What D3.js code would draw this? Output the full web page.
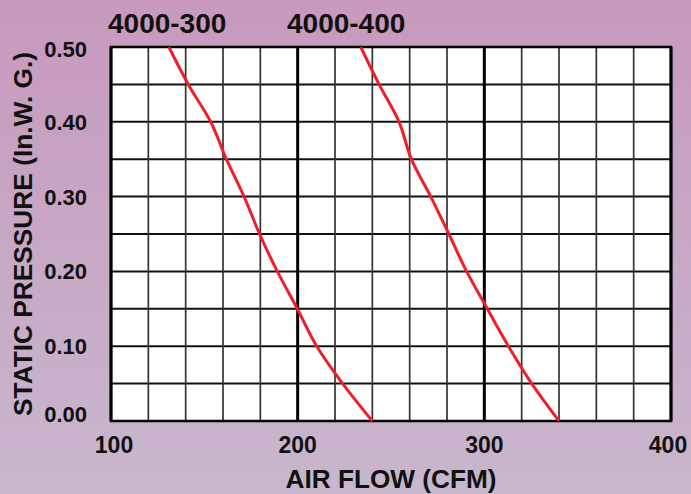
<!DOCTYPE html>
<html>
<head>
<meta charset="utf-8">
<script src="https://cdn.jsdelivr.net/npm/d3@7"></script>
<style>
html,body{margin:0;padding:0;}
svg{display:block;}
text{font-family:"Liberation Sans",Arial,sans-serif;font-weight:bold;fill:#111;}
</style>
</head>
<body>
<svg id="chart" width="691" height="494"></svg>
<script>
// ---- data ----
const seriesNames = ["4000-300", "4000-400"];
const pressure = [0.50, 0.45, 0.40, 0.35, 0.30, 0.25, 0.20, 0.15, 0.10, 0.05, 0.00];
const flow300 = [131, 141.4, 153.4, 161.8, 171.3, 179.6, 189.1, 199.8, 210.2, 224.1, 240];
const flow400 = [233.8, 243.6, 254.3, 260.9, 271.3, 281.0, 290.5, 301.6, 312.9, 325.4, 340];
const xTicks = [100, 200, 300, 400];
const yTicks = [0.00, 0.10, 0.20, 0.30, 0.40, 0.50];
const xGrid = d3.range(100, 401, 20);
const yGrid = d3.range(0, 0.501, 0.05);

const svg = d3.select("#chart");
const W = 691, H = 494;
const m = {left: 111, right: 671, top: 47, bottom: 421};

const defs = svg.append("defs");
const grad = defs.append("linearGradient").attr("id", "bg").attr("x1", 0).attr("y1", 0).attr("x2", 0).attr("y2", 1);
grad.append("stop").attr("offset", "0%").attr("stop-color", "#c799bd");
grad.append("stop").attr("offset", "100%").attr("stop-color", "#c8b7cd");
svg.append("rect").attr("width", W).attr("height", H).attr("fill", "url(#bg)");

const x = d3.scaleLinear().domain([100, 400]).range([m.left, m.right]);
const y = d3.scaleLinear().domain([0, 0.5]).range([m.bottom, m.top]);

svg.append("rect").attr("x", m.left).attr("y", m.top)
  .attr("width", m.right - m.left).attr("height", m.bottom - m.top).attr("fill", "#fff");

// grid
svg.append("g").selectAll("line").data(yGrid).join("line")
  .attr("x1", m.left).attr("x2", m.right)
  .attr("y1", d => y(d)).attr("y2", d => y(d))
  .attr("stroke", "#111").attr("stroke-width", 2);
svg.append("g").selectAll("line").data(xGrid).join("line")
  .attr("y1", m.top).attr("y2", m.bottom)
  .attr("x1", d => x(d)).attr("x2", d => x(d))
  .attr("stroke", d => (d % 100 === 0) ? "#000" : "#333")
  .attr("stroke-width", d => (d % 100 === 0) ? 3 : 1.7);
svg.append("rect").attr("x", m.left).attr("y", m.top)
  .attr("width", m.right - m.left).attr("height", m.bottom - m.top)
  .attr("fill", "none").attr("stroke", "#000").attr("stroke-width", 2.5);

// curves
const line = d3.line().x(d => x(d[0])).y(d => y(d[1])).curve(d3.curveMonotoneY);
[flow300, flow400].forEach(fl => {
  const pts = fl.map((f, i) => [f, pressure[i]]);
  svg.append("path").datum(pts).attr("d", line)
    .attr("fill", "none").attr("stroke", "#ee1f2b").attr("stroke-width", 3);
});

// y tick labels
svg.append("g").selectAll("text").data(yTicks).join("text")
  .attr("x", 87)
  .attr("y", d => Math.min(Math.max(y(d), m.top + 2), m.bottom - 7))
  .attr("dy", "0.36em")
  .attr("text-anchor", "end").attr("font-size", 22)
  .text(d => d3.format(".2f")(d));

// x tick labels
svg.append("g").selectAll("text").data(xTicks).join("text")
  .attr("x", d => Math.min(Math.max(x(d), m.left + 3), m.right - 3))
  .attr("y", 453)
  .attr("text-anchor", "middle").attr("font-size", 23)
  .text(d => d);

// axis titles
svg.append("text").attr("x", (m.left + m.right) / 2).attr("y", 488)
  .attr("text-anchor", "middle").attr("font-size", 25.5)
  .attr("textLength", 211).attr("lengthAdjust", "spacingAndGlyphs")
  .text("AIR FLOW (CFM)");
svg.append("text").attr("transform", "translate(32," + ((m.top + m.bottom) / 2) + ") rotate(-90)")
  .attr("text-anchor", "middle").attr("font-size", 26)
  .attr("textLength", 364).attr("lengthAdjust", "spacingAndGlyphs")
  .text("STATIC PRESSURE (In.W. G.)");

// series labels
svg.append("text").attr("x", 108).attr("y", 33).attr("font-size", 28).text(seriesNames[0]);
svg.append("text").attr("x", 287).attr("y", 33).attr("font-size", 28).text(seriesNames[1]);
</script>
</body>
</html>
